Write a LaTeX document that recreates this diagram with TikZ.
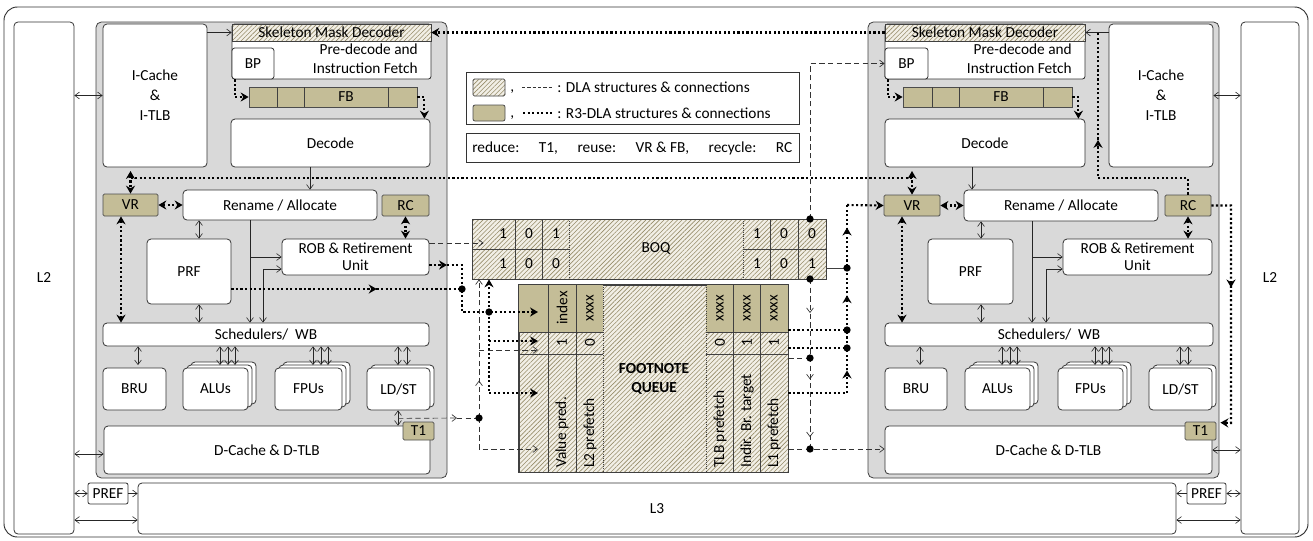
\documentclass[tikz,border=0pt]{standalone}
\usepackage{fontspec}
\setmainfont{Carlito}
\usetikzlibrary{positioning,arrows.meta,calc,fit,patterns.meta,decorations.markings}
\definecolor{CoreGray}{RGB}{217,217,217}
\definecolor{TanFill}{RGB}{196,189,151}
\definecolor{HatchBg}{RGB}{242,239,230}
\definecolor{HatchLn}{RGB}{150,140,105}
\newcommand\diagfont{\fontsize{11.5}{14}\selectfont}
\tikzset{
  thintip/.tip={Straight Barb[length=1.2mm,width=1.8mm]},
  r3tip/.tip={Stealth[length=2.1mm,width=2.4mm,inset=0.7mm]},
  boxtext/.style={label={[align=center,inner sep=0pt]center:#1}},
  corebox/.style={draw=black!75,fill=CoreGray,rounded corners=4pt,line width=0.6pt,inner sep=0pt},
  box/.style={draw=black!80,fill=white,rounded corners=3pt,line width=0.6pt,inner sep=0pt,align=center},
  backbox/.style={draw=black!80,fill=white,rounded corners=3pt,line width=0.6pt},
  tanbox/.style={draw=black!70,fill=TanFill,rounded corners=1pt,line width=0.6pt,inner sep=0pt},
  hatchbox/.style={draw=black!75,line width=0.6pt,inner sep=0pt,preaction={fill=HatchBg},
    pattern={Lines[angle=45,distance=2.4pt,line width=0.45pt]},pattern color=HatchLn},
  cellline/.style={draw=black!75,line width=0.6pt},
  flow/.style={-{thintip},line width=0.45pt,draw=black!85},
  duplex/.style={{thintip}-{thintip},line width=0.45pt,draw=black!85},
  dlapath/.style={line width=0.5pt,draw=black!80,dash pattern=on 4pt off 2.5pt},
  dlaflow/.style={dlapath,-{thintip}},
  r3path/.style={line width=1.6pt,draw=black,dash pattern=on 1.6pt off 1.8pt},
  r3flow/.style={r3path,-{r3tip}},
  r3duplex/.style={r3path,{r3tip}-{r3tip}},
  dlamid/.style={postaction={decorate},decoration={markings,mark=at position #1 with {\arrow{thintip}}}},
  r3mid/.style={postaction={decorate},decoration={markings,mark=at position #1 with {\arrow{r3tip}}}},
  jdot/.style={circle,fill=black,inner sep=0pt,minimum size=5.5pt},
  qtext/.style={rotate=90,inner sep=0pt}
}

\begin{document}
\begin{tikzpicture}[x=0.75pt,y=-0.75pt,font=\diagfont]
  \useasboundingbox (0,0) rectangle (1313,540);
  \draw[draw=black!80,line width=0.7pt,rounded corners=10pt] (4,7) rectangle (1308,537);

  % memory side
  \node[box,fit={(14,22) (74,534)},boxtext=L2] (ll2) {};
  \node[box,fit={(1241,22) (1299,534)},boxtext=L2] (rl2) {};
  \node[box,fit={(138,483) (1176,534)},boxtext=L3] (l3) {};
  \node[box,rounded corners=1.5pt,fit={(88,483) (128,504)},boxtext=PREF] (lpref) {};
  \node[box,rounded corners=1.5pt,fit={(1187,483) (1226,504)},boxtext=PREF] (rpref) {};

  % left core
  \node[corebox,fit={(96,22) (447,478)}] (lcore) {};
  \node[box,fit={(103,24) (207,167)},boxtext={I-Cache\\[1pt]\&\\[1pt]I-TLB}] (licache) {};
  \node[box,rounded corners=2pt,fit={(232,24) (431,79)}] (lpdf) {};
  \node[anchor=east,align=right,inner sep=0pt] (lpdtxt) at (418,59) {Pre-decode and\\Instruction Fetch};
  \node[hatchbox,fit={(232,24) (431,41)},boxtext={Skeleton Mask Decoder}] (lsmd) {};
  \node[box,rounded corners=2pt,fit={(232,48) (274,79)},boxtext=BP] (lbp) {};
  \node[tanbox,rounded corners=0pt,fit={(249,87) (417,107)}] (lfb) {};
  \foreach \x in {277,304,388} \draw[cellline] (\x,87) -- (\x,107);
  \node (lfbtxt) at (346,97) {FB};
  \node[box,fit={(231,119) (430,167)},boxtext=Decode] (ldecode) {};
  \node[tanbox,fit={(103,194) (158,216)},boxtext=VR] (lvr) {};
  \node[box,fit={(183,190) (377,220)},boxtext={Rename / Allocate}] (lrename) {};
  \node[tanbox,fit={(382,195) (429,216)},boxtext=RC] (lrc) {};
  \node[box,fit={(282,239) (429,275)},boxtext={ROB \& Retirement\\[-1pt]Unit}] (lrob) {};
  \node[box,fit={(147,239) (231,304)},boxtext=PRF] (lprf) {};
  \node[box,fit={(103,323) (429,346)},boxtext={Schedulers/\ \ WB}] (lsched) {};
  \draw[backbox] (191,362) rectangle (256,404);
  \draw[backbox] (187,365) rectangle (252,407);
  \draw[backbox] (283,362) rectangle (350,404);
  \draw[backbox] (279,365) rectangle (346,407);
  \draw[backbox] (371,365) rectangle (434,407);
  \node[box,fit={(103,368) (166,410)},boxtext=BRU] (lbru) {};
  \node[box,fit={(183,368) (248,410)},boxtext=ALUs] (lalu) {};
  \node[box,fit={(275,368) (342,410)},boxtext=FPUs] (lfpu) {};
  \node[box,fit={(367,368) (430,410)},boxtext=LD/ST] (lldst) {};
  \node[box,fit={(104,426) (430,474)},boxtext={D-Cache \& D-TLB}] (ldcache) {};
  \node[tanbox,fit={(403,422) (434,440)},boxtext=T1] (lt1) {};

  % right core
  \node[corebox,fit={(868,22) (1219,478)}] (rcore) {};
  \node[box,fit={(1109,24) (1213,167)},boxtext={I-Cache\\[1pt]\&\\[1pt]I-TLB}] (ricache) {};
  \node[box,rounded corners=2pt,fit={(885,24) (1085,79)}] (rpdf) {};
  \node[anchor=east,align=right,inner sep=0pt] (rpdtxt) at (1072,59) {Pre-decode and\\Instruction Fetch};
  \node[hatchbox,fit={(885,24) (1085,41)},boxtext={Skeleton Mask Decoder}] (rsmd) {};
  \node[box,rounded corners=2pt,fit={(885,48) (928,79)},boxtext=BP] (rbp) {};
  \node[tanbox,rounded corners=0pt,fit={(903,87) (1072,107)}] (rfb) {};
  \foreach \x in {932,959,1043} \draw[cellline] (\x,87) -- (\x,107);
  \node (rfbtxt) at (1001,97) {FB};
  \node[box,fit={(885,119) (1085,167)},boxtext=Decode] (rdecode) {};
  \node[tanbox,fit={(884,195) (940,216)},boxtext=VR] (rvr) {};
  \node[box,fit={(964,190) (1158,221)},boxtext={Rename / Allocate}] (rrename) {};
  \node[tanbox,fit={(1165,195) (1211,216)},boxtext=RC] (rrc) {};
  \node[box,fit={(1063,239) (1212,275)},boxtext={ROB \& Retirement\\[-1pt]Unit}] (rrob) {};
  \node[box,fit={(928,239) (1013,304)},boxtext=PRF] (rprf) {};
  \node[box,fit={(885,323) (1213,346)},boxtext={Schedulers/\ \ WB}] (rsched) {};
  \draw[backbox] (973,362) rectangle (1038,404);
  \draw[backbox] (969,365) rectangle (1034,407);
  \draw[backbox] (1066,362) rectangle (1131,404);
  \draw[backbox] (1062,365) rectangle (1127,407);
  \draw[backbox] (1153,365) rectangle (1216,407);
  \node[box,fit={(885,368) (947,410)},boxtext=BRU] (rbru) {};
  \node[box,fit={(965,368) (1030,410)},boxtext=ALUs] (ralu) {};
  \node[box,fit={(1058,368) (1123,410)},boxtext=FPUs] (rfpu) {};
  \node[box,fit={(1149,368) (1212,410)},boxtext=LD/ST] (rldst) {};
  \node[box,fit={(885,426) (1212,474)},boxtext={D-Cache \& D-TLB}] (rdcache) {};
  \node[tanbox,fit={(1185,422) (1216,440)},boxtext=T1] (rt1) {};

  % legend
  \node[draw=black!80,line width=0.6pt,inner sep=0pt,fit={(466,72) (799,124)}] (legend) {};
  \node[hatchbox,rounded corners=1pt,fit={(473,79) (505,96)}] (lgdla) {};
  \node[anchor=base west,inner sep=0pt] (lgc1) at (510,91) {,};
  \draw[dlapath,dash pattern=on 2.5pt off 1.5pt] (522,87) -- (553,87);
  \node[anchor=west,inner sep=0pt] (lgt1) at (557,87) {: DLA structures \& connections};
  \node[tanbox,rounded corners=1.5pt,fit={(473,105) (505,121)}] (lgr3) {};
  \node[anchor=base west,inner sep=0pt] (lgc2) at (510,117) {,};
  \draw[r3path] (523,113) -- (553,113);
  \node[anchor=west,inner sep=0pt] (lgt2) at (557,113) {: R3-DLA structures \& connections};
  \node[draw=black!80,line width=0.6pt,inner sep=0pt,fit={(466,133) (799,162)}] (policy) {};
  \node[anchor=west,inner sep=0pt] (policytxt) at (472,148) {\hbox to 240pt{reduce:\hfill T1,\hfill reuse:\hfill VR \& FB,\hfill recycle:\hfill RC}};

  % BOQ
  \node[hatchbox,fit={(472,219) (826,279)}] (boq) {};
  \draw[cellline] (472,249) -- (569,249) (743,249) -- (826,249);
  \foreach \x in {515,542,770,798} \draw[cellline] (\x,219) -- (\x,279);
  \draw[cellline,densely dotted,line width=0.5pt] (569,219) -- (569,279) (743,219) -- (743,279);
  \node (boqtxt) at (656,249) {BOQ};
  \foreach \x/\t/\b in {503/1/1,529/0/0,556/1/0,757/1/1,784/0/0,812/0/1} {
    \node (boqt\x) at (\x,234) {\t};
    \node (boqb\x) at (\x,264) {\b};
  }

  % footnote queue
  \node[hatchbox,fit={(519,285) (788,472)}] (fq) {};
  \fill[TanFill] (519,285) rectangle (603,332) (706,285) rectangle (788,332);
  \draw[cellline] (519,332) -- (603,332) (519,354) -- (603,354) (706,332) -- (788,332) (706,354) -- (788,354);
  \foreach \x in {548,576,733,760} \draw[cellline] (\x,285) -- (\x,472);
  \draw[cellline,densely dotted,line width=0.5pt] (603,285) -- (603,472) (706,285) -- (706,472);
  \draw[cellline] (fq.north west) rectangle (fq.south east);
  \foreach \x/\h/\v/\n in {562/index/1/Value pred.,590/xxxx/0/L2 prefetch,720/xxxx/0/TLB prefetch,747/xxxx/1/Indir. Br. target,774/xxxx/1/L1 prefetch} {
    \node[qtext] (fqh\x) at (\x,308) {\h};
    \node[qtext] (fqv\x) at (\x,343) {\v};
    \node[qtext,anchor=west] (fqn\x) at (\x,468) {\n};
  }
  \node[font=\diagfont\bfseries,align=center] (fqtxt) at (654,379) {FOOTNOTE\\QUEUE};

  % junctions
  \coordinate (jl1) at (479,418);
  \coordinate (jl2) at (462,289);
  \coordinate (jl3) at (489,312);
  \coordinate (jqt) at (810,219);
  \coordinate (jqb) at (810,279);
  \coordinate (jqm) at (810,358);
  \coordinate (jql) at (810,449);
  \coordinate (jr1) at (847,268);
  \coordinate (jr2) at (847,330);
  \coordinate (jr3) at (847,348);
  \coordinate (rvb) at (847,393);
  \coordinate (rvt) at (847,205);
  \coordinate (lvrtop) at (lvr.north |- 0,178);
  \coordinate (rvrtop) at (rvr.north |- 0,178);

  % memory links
  \draw[duplex] (licache.west -| ll2.east) -- (licache.west);
  \draw[duplex] (ll2.east |- 0,454) -- (ldcache.west |- 0,454);
  \draw[duplex] (ll2.east |- lpref) -- (lpref.west);
  \draw[flow] (lpref.east) -- (lpref.east -| l3.west);
  \draw[duplex] (ll2.east |- 0,520) -- (l3.west |- 0,520);
  \draw[duplex] (ricache.east) -- (ricache.east -| rl2.west);
  \draw[duplex] (rdcache.east) -- (rdcache.east -| rl2.west);
  \draw[flow] (rpref.west) -- (rpref.west -| l3.east);
  \draw[duplex] (rpref.east) -- (rpref.east -| rl2.west);
  \draw[duplex] (l3.east |- 0,520) -- (rl2.west |- 0,520);

  % left pipeline
  \draw[flow] (licache.east |- lsmd) -- (lsmd.west);
  \draw[r3flow] ($(lbp.south west)+(3,0)$) |- (lfb.west);
  \draw[r3flow] (lfb.east) -| ($(ldecode.north east)+(-6,0)$);
  \draw[flow] (ldecode.south -| 310,0) -- (lrename.north -| 310,0);
  \draw[r3duplex] (lvr.east) -- (lrename.west);
  \draw[r3duplex] (lrc.south) -- (lrc.south |- lrob.north);
  \draw[duplex] (lrename.south -| 199,0) -- (lprf.north -| 199,0);
  \draw[duplex] (lprf.south -| 199,0) -- (lsched.north -| 199,0);
  \draw[flow] (lrename.south -| 250,0) -- (lsched.north -| 250,0);
  \draw[flow] (250,257) -- (lrob.west |- 0,257);
  \draw[duplex] (lrob.west |- 0,269) -| (lsched.north -| 263,0);
  \draw[r3duplex] (lvr.south -| 121,0) -- (lsched.north -| 121,0);
  \foreach \x in {138,220,228,235,313,321,328,398,407}
    \draw[duplex] (lsched.south -| \x,0) -- (\x,365);
  \draw[duplex] (lldst.south -| 398,0) -- (ldcache.north -| 398,0);

  % right pipeline
  \draw[flow] (ricache.west |- rsmd) -- (rsmd.east);
  \draw[r3flow] ($(rbp.south west)+(3,0)$) |- (rfb.west);
  \draw[r3flow] (rfb.east) -| ($(rdecode.north east)+(-7,0)$);
  \draw[flow] (rdecode.south -| 972,0) -- (rrename.north -| 972,0);
  \draw[r3duplex] (rvr.east) -- (rrename.west);
  \draw[r3duplex] (rrc.south) -- (rrc.south |- rrob.north);
  \draw[duplex] (rrename.south -| 981,0) -- (rprf.north -| 981,0);
  \draw[duplex] (rprf.south -| 981,0) -- (rsched.north -| 981,0);
  \draw[flow] (rrename.south -| 1032,0) -- (rsched.north -| 1032,0);
  \draw[flow] (1032,257) -- (rrob.west |- 0,257);
  \draw[duplex] (rrob.west |- 0,269) -| (rsched.north -| 1046,0);
  \draw[r3duplex] (rvr.south -| 902,0) -- (rsched.north -| 902,0);
  \foreach \x in {920,1002,1010,1017,1095,1102,1109,1180,1188}
    \draw[duplex] (rsched.south -| \x,0) -- (\x,365);
  \draw[r3path,r3mid=0.575] (rrc.north) |- (1098,178) -- (1098,33);
  \draw[r3flow,r3mid=0.41] (rrc.east) -| (1231,423) -- ($(rt1.north east)+(4,1)$);

  % cross-core R3 links
  \draw[r3flow] (rsmd.west) -- (lsmd.east);
  \draw[r3path] (lvrtop) -- (rvrtop);
  \draw[r3duplex] ($(lvrtop)+(0,-7)$) -- (lvr.north);
  \draw[r3duplex] ($(rvrtop)+(0,-7)$) -- (rvr.north);

  % left core to queues
  \draw[dlaflow] (lrob.east |- 0,243) -- ($(boq.west |- 0,243)+(12,0)$);
  \draw[dlaflow] (lldst.south -| 398,0) ++(0,8) -- (457,418);
  \draw[dlapath] (457,418) -- (jl1);
  \draw[dlaflow,dlamid=0.27] (jl1) -- (jl1 |- boq.south);
  \draw[dlaflow] (jl1 |- 0,350) -- (538,350);
  \draw[dlaflow] (jl1) |- (538,449);
  \draw[r3flow] (lrob.east |- 0,265) -- (447,265);
  \draw[r3flow] (447,265) -| (jl2 |- jl3) -- (538,312);
  \draw[r3path,r3mid=0.63] (lprf.east |- jl2) -- (jl2);
  \draw[r3flow] (jl3) -- (jl3 |- boq.south);
  \draw[r3path] (jl3) -- (489,393);
  \draw[r3flow] (489,341) -- (538,341);
  \draw[r3flow] (489,393) -- (538,393);

  % queues to right core
  \draw[dlaflow] (jqt) |- (rbp.west);
  \draw[dlapath,postaction={decorate},decoration={markings,
    mark=at position 0.2 with {\arrow{thintip}},
    mark=at position 0.59 with {\arrow{thintip}},
    mark=at position 0.93 with {\arrow{thintip}}}] (jqb) -- (jql);
  \draw[dlapath] (fq.east |- jqm) -- (jqm);
  \draw[dlaflow] (fq.east |- jql) -- (rdcache.west |- jql);
  \draw[cellline,line width=0.5pt] (boq.east |- jr1) -- (jr1);
  \draw[r3path] (fq.east |- jr2) -- (jr2);
  \draw[r3path] (fq.east |- jr3) -- (jr3);
  \draw[r3path] (fq.east |- rvb) -- (rvb);
  \draw[r3path,postaction={decorate},decoration={markings,
    mark=at position 0.12 with {\arrow{r3tip}},
    mark=at position 0.52 with {\arrow{r3tip}},
    mark=at position 0.88 with {\arrow{r3tip}}}] (rvb) -- (rvt);
  \draw[r3flow] (rvt) -- (rvr.west);

  \foreach \j in {jl1,jl2,jl3,jqt,jqb,jqm,jql,jr1,jr2,jr3}
    \node[jdot] (dot-\j) at (\j) {};
\end{tikzpicture}
\end{document}
